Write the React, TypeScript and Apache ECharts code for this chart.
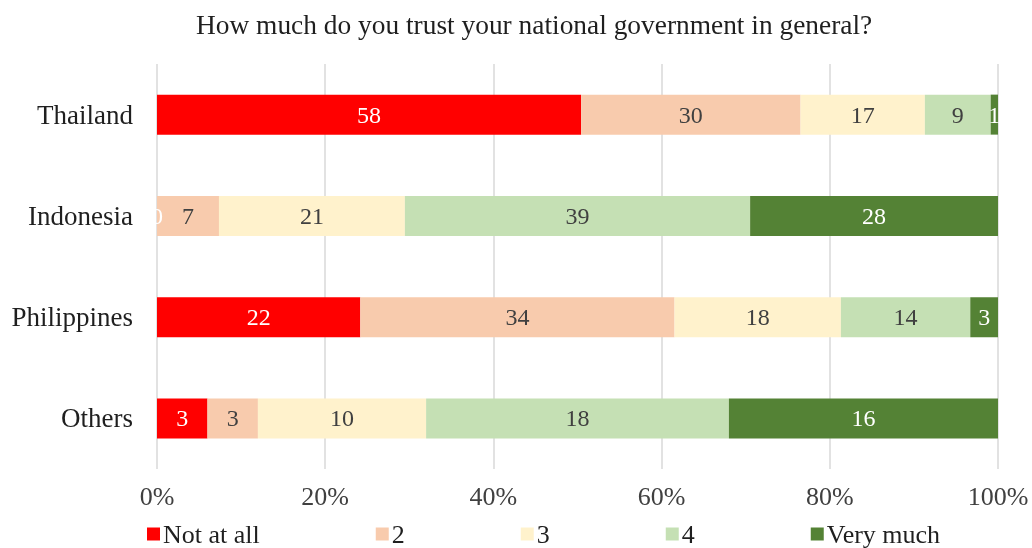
import React, { useEffect, useRef } from "react";
import * as echarts from "echarts";

const categories = ["Thailand", "Indonesia", "Philippines", "Others"];
const seriesNames = ["Not at all", "2", "3", "4", "Very much"];
const notAtAll = [58, 0, 22, 3];
const two = [30, 7, 34, 3];
const three = [17, 21, 18, 10];
const four = [9, 39, 14, 18];
const veryMuch = [1, 28, 3, 16];
const colors = ["#ff0000", "#f8cbad", "#fff2cc", "#c5e0b4", "#548235"];
const labelColors = ["#ffffff", "#404040", "#404040", "#404040", "#ffffff"];
const xTicks = [0, 20, 40, 60, 80, 100];

const FONT = "'Liberation Serif', 'Times New Roman', serif";

export default function App() {
  const ref = useRef<HTMLDivElement>(null);
  useEffect(() => {
    if (!ref.current) return;
    const chart = echarts.init(ref.current, undefined, { renderer: "svg" });
    const counts = [notAtAll, two, three, four, veryMuch];
    const totals = categories.map((_, i) => counts.reduce((s, arr) => s + arr[i], 0));
    const series = counts.map((arr, k) => ({
      name: seriesNames[k],
      type: "bar",
      stack: "total",
      barWidth: 40,
      itemStyle: { color: colors[k] },
      label: {
        show: true,
        position: "inside",
        color: labelColors[k],
        fontFamily: FONT,
        fontSize: 24,
        formatter: (p: any) => String(arr[p.dataIndex]),
      },
      data: arr.map((v, i) => (v / totals[i]) * 100),
    }));
    chart.setOption({
      animation: false,
      title: {
        text: "How much do you trust your national government in general?",
        left: 191,
        top: 6,
        textStyle: { fontFamily: FONT, fontSize: 27.4, fontWeight: "normal", color: "#1f1f1f" },
      },
      legend: {
        data: seriesNames,
        left: 142,
        top: 516,
        itemWidth: 13,
        itemHeight: 13,
        itemGap: 116,
        icon: "rect",
        textStyle: { fontFamily: FONT, fontSize: 26, color: "#1f1f1f", padding: [0, 0, 0, -2] },
      },
      grid: { left: 157, right: 34, top: 64, height: 405, containLabel: false },
      xAxis: {
        type: "value",
        min: 0,
        max: 100,
        interval: 20,
        axisLine: { show: false },
        axisTick: { show: false },
        splitLine: { show: true, lineStyle: { color: "#d9d9d9", width: 1.5 } },
        axisLabel: {
          margin: 14,
          fontFamily: FONT,
          fontSize: 26,
          color: "#404040",
          formatter: (v: number) => (xTicks.includes(v) ? v + "%" : ""),
        },
      },
      yAxis: {
        type: "category",
        data: categories,
        inverse: true,
        axisLine: { show: false },
        axisTick: { show: false },
        axisLabel: { margin: 24, fontFamily: FONT, fontSize: 27, color: "#1f1f1f" },
      },
      series,
    });
    return () => chart.dispose();
  }, []);
  return (
    <div
      ref={ref}
      style={{ position: "fixed", left: 0, top: 0, width: 1032, height: 548 }}
    />
  );
}
